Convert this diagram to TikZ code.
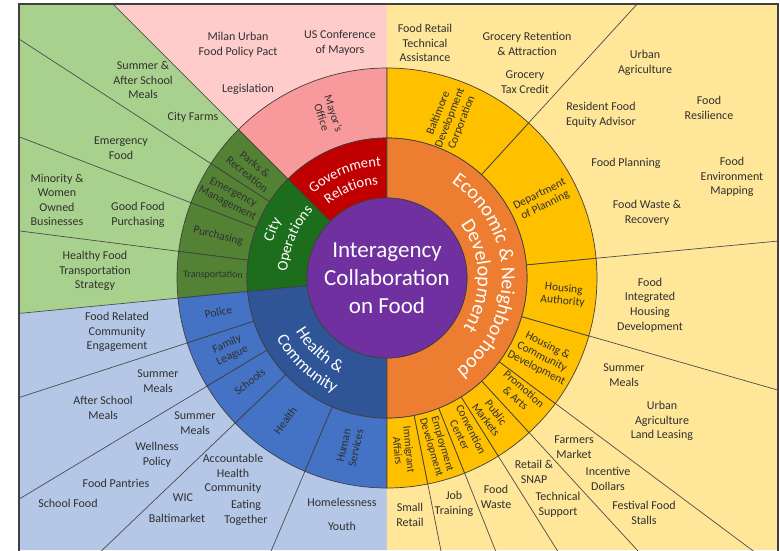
\documentclass[tikz,border=0pt]{standalone}
\usepackage{fontspec}
\setmainfont{Carlito}
\usetikzlibrary{decorations.text}
\definecolor{cpurple}{HTML}{7030A0}
\definecolor{cred}{HTML}{C00000}
\definecolor{cpinkring}{HTML}{F8999B}
\definecolor{cpinkout}{HTML}{FFCCCC}
\definecolor{cgreen}{HTML}{1C6E1C}
\definecolor{cgreenring}{HTML}{548235}
\definecolor{cgreenout}{HTML}{A9D18E}
\definecolor{cblue}{HTML}{2F5597}
\definecolor{cbluering}{HTML}{4472C4}
\definecolor{cblueout}{HTML}{B4C7E7}
\definecolor{corange}{HTML}{ED7D31}
\definecolor{cyellowring}{HTML}{FFC000}
\definecolor{cyellowout}{HTML}{FFE699}
\definecolor{ctext}{HTML}{303030}
\definecolor{cframe}{HTML}{404040}
\newcommand{\ringseg}[5]{\filldraw[fill=#1,segline] (#2:#4) arc[start angle=#2,end angle=#3,radius=#4] -- (#3:#5) arc[start angle=#3,end angle=#2,radius=#5] -- cycle;}
\tikzset{
  segline/.style={draw=black!75, line width=0.7pt},
  outline/.style={draw=black!70, line width=0.7pt},
  olab/.style={align=center, text=ctext, font=\fontsize{12}{14.6}\selectfont, inner sep=1pt},
  rlab/.style={align=center, text=ctext, font=\fontsize{11.5}{12.5}\selectfont, inner sep=0pt},
  curvtext/.style={decorate, decoration={text along path, text align=center, text={#1}}}
}
\begin{document}
\begin{tikzpicture}[x=1pt,y=1pt]
\useasboundingbox (-387,-272) rectangle (393,278);
% outer regions
\fill[cpinkout] (0,0) -- (0,274) -- (-274,274) -- cycle;
\fill[cgreenout] (0,0) -- (-274,274) -- (-368,274) -- (-368,-35.4) -- cycle;
\fill[cblueout] (0,0) -- (-368,-35.4) -- (-368,-272) -- (0,-272) -- cycle;
\fill[cyellowout] (0,0) -- (0,-272) -- (391,-272) -- (391,274) -- (0,274) -- cycle;
\begin{scope}
\clip (-368,-272) rectangle (391,274);
\foreach \a in {135,147,159,172.7,185.5,198,211,223.7,247,-78.8,-68.3,-58,-47.4,-36.7,-16,5.4,47.6}
  \draw[outline] (\a:205) -- (\a:700);
\end{scope}
\draw[cframe, line width=2.2pt] (-368,-274) -- (-368,274) -- (391,274) -- (391,-274);
% ring 3
\ringseg{cpinkring}{90}{135}{140}{210}
\ringseg{cgreenring}{135}{147}{140}{210}
\ringseg{cgreenring}{147}{159}{140}{210}
\ringseg{cgreenring}{159}{172.7}{140}{210}
\ringseg{cgreenring}{172.7}{185.5}{140}{210}
\ringseg{cbluering}{185.5}{198}{140}{210}
\ringseg{cbluering}{198}{211}{140}{210}
\ringseg{cbluering}{211}{223.7}{140}{210}
\ringseg{cbluering}{223.7}{247}{140}{210}
\ringseg{cbluering}{247}{270}{140}{210}
\ringseg{cyellowring}{-90}{-78.8}{140}{210}
\ringseg{cyellowring}{-78.8}{-68.3}{140}{210}
\ringseg{cyellowring}{-68.3}{-58}{140}{210}
\ringseg{cyellowring}{-58}{-47.4}{140}{210}
\ringseg{cyellowring}{-47.4}{-36.7}{140}{210}
\ringseg{cyellowring}{-36.7}{-16}{140}{210}
\ringseg{cyellowring}{-16}{5.4}{140}{210}
\ringseg{cyellowring}{5.4}{47.6}{140}{210}
\ringseg{cyellowring}{47.6}{90}{140}{210}
% ring 2
\ringseg{cred}{90}{135}{80}{140}
\ringseg{cgreen}{135}{185.5}{80}{140}
\ringseg{cblue}{185.5}{270}{80}{140}
\ringseg{corange}{-90}{90}{80}{140}
% core
\node[circle, fill=cpurple, draw=black!75, line width=0.7pt, minimum size=160pt, inner sep=0pt, text=white, align=center, font=\fontsize{23}{28}\selectfont] (core) at (0,0) {Interagency\\Collaboration\\on Food};
% ring 2 curved labels
\path[curvtext={|\fontsize{14.5}{16}\selectfont\color{white}|Government}] (140:112) arc[start angle=140,end angle=84,radius=112];
\path[curvtext={|\fontsize{14.5}{16}\selectfont\color{white}|Relations}] (140:94) arc[start angle=140,end angle=84,radius=94];
\path[curvtext={|\fontsize{15}{17}\selectfont\color{white}|City}] (185:120) arc[start angle=185,end angle=129,radius=120];
\path[curvtext={|\fontsize{15}{17}\selectfont\color{white}|Operations}] (185:100) arc[start angle=185,end angle=129,radius=100];
\path[curvtext={|\fontsize{17}{19}\selectfont\color{white}|Health {\&}}] (195:106) arc[start angle=195,end angle=259,radius=106];
\path[curvtext={|\fontsize{17}{19}\selectfont\color{white}|Community}] (195:126) arc[start angle=195,end angle=259,radius=126];
\path[curvtext={|\fontsize{20}{24}\selectfont\color{white}|Economic {\&} Neighborhood}] (85:115) arc[start angle=85,end angle=-82,radius=115];
\path[curvtext={|\fontsize{20}{24}\selectfont\color{white}|Development}] (85:91) arc[start angle=85,end angle=-82,radius=91];
% ring 3 labels
\node[rlab,rotate=-72] (mo) at (110:173) {Mayor's\\Office};
\node[rlab,rotate=-39] (pr) at (141.3:174) {Parks \&\\Recreation};
\node[rlab,rotate=-27] (em) at (153:176) {Emergency\\Management};
\node[rlab,rotate=-14] (pu) at (166:174) {Purchasing};
\node[rlab,rotate=-1,font=\fontsize{10}{12}\selectfont] (tr) at (179:174) {Transportation};
\node[rlab,rotate=11.4] (po) at (191.4:172) {Police};
\node[rlab,rotate=24.6] (fl) at (204.6:173) {Family\\League};
\node[rlab,rotate=37] (sc) at (217:172) {Schools};
\node[rlab,rotate=54] (he) at (234.5:175) {Health};
\node[rlab,rotate=77.6] (hs) at (257.6:173) {Human\\Services};
\node[rlab,rotate=68.5] (bdc) at (68.5:172) {Baltimore\\Development\\Corporation};
\node[rlab,rotate=26.6] (dp) at (26.6:174) {Department\\of Planning};
\node[rlab,rotate=-5.5] (ha) at (-5.5:177) {Housing\\Authority};
\node[rlab,rotate=-27] (hcd) at (-27:174) {Housing \&\\Community\\Development};
\node[rlab,rotate=-41] (pa) at (-41:176) {Promotion\\\& Arts};
\node[rlab,rotate=-53] (pm) at (-53:173) {Public\\Markets};
\node[rlab,rotate=-63] (cc) at (-63:173) {Convention\\Center};
\node[rlab,rotate=-73.5,font=\fontsize{11}{11.5}\selectfont] (ed) at (-73.5:175) {Employment\\Development};
\node[rlab,rotate=-84.5,font=\fontsize{11}{11.5}\selectfont] (ia) at (-84.5:173) {Immigrant\\Affairs};
% outer labels: pink
\node[olab] (o1) at (-149,233) {Milan Urban\\Food Policy Pact};
\node[olab] (o2) at (-47,235) {US Conference\\of Mayors};
\node[olab] (o3) at (-139,189) {Legislation};
% green
\node[olab] (o4) at (-244,198) {Summer \&\\After School\\Meals};
\node[olab] (o5) at (-194,161) {City Farms};
\node[olab] (o6) at (-266,130) {Emergency\\Food};
\node[olab] (o7) at (-330,78) {Minority \&\\Women\\Owned\\Businesses};
\node[olab] (o8) at (-249,63) {Good Food\\Purchasing};
\node[olab] (o9) at (-292,7) {Healthy Food\\Transportation\\Strategy};
% blue
\node[olab] (o10) at (-270,-54) {Food Related\\Community\\Engagement};
\node[olab] (o11) at (-229,-103) {Summer\\Meals};
\node[olab] (o12) at (-284,-130) {After School\\Meals};
\node[olab] (o13) at (-192,-145) {Summer\\Meals};
\node[olab] (o14) at (-230,-177) {Wellness\\Policy};
\node[olab] (o15) at (-271,-205) {Food Pantries};
\node[olab] (o16) at (-319,-225) {School Food};
\node[olab] (o17) at (-154,-196) {Accountable\\Health\\Community};
\node[olab] (o18) at (-204,-220) {WIC};
\node[olab] (o19) at (-141,-235) {Eating\\Together};
\node[olab] (o20) at (-210,-240) {Baltimarket};
\node[olab] (o21) at (-45,-224) {Homelessness};
\node[olab] (o22) at (-45,-248) {Youth};
% yellow
\node[olab] (o23) at (38,235) {Food Retail\\Technical\\Assistance};
\node[olab] (o24) at (140,234) {Grocery Retention\\\& Attraction};
\node[olab] (o25) at (138,196) {Grocery\\Tax Credit};
\node[olab] (o26) at (258,215) {Urban\\Agriculture};
\node[olab] (o27) at (322,170) {Food\\Resilience};
\node[olab] (o28) at (214,163) {Resident Food\\Equity Advisor};
\node[olab] (o29) at (239,115) {Food Planning};
\node[olab] (o30) at (345,101) {Food\\Environment\\Mapping};
\node[olab] (o31) at (260,65) {Food Waste \&\\Recovery};
\node[olab] (o32) at (263,-27) {Food\\Integrated\\Housing\\Development};
\node[olab] (o33) at (237,-97) {Summer\\Meals};
\node[olab] (o34) at (275,-143) {Urban\\Agriculture\\Land Leasing};
\node[olab] (o35) at (187,-169) {Farmers\\Market};
\node[olab] (o36) at (221,-201) {Incentive\\Dollars};
\node[olab] (o37) at (257,-235) {Festival Food\\Stalls};
\node[olab] (o38) at (147,-194) {Retail \&\\SNAP};
\node[olab] (o39) at (171,-227) {Technical\\Support};
\node[olab] (o40) at (109,-219) {Food\\Waste};
\node[olab] (o41) at (67,-226) {Job\\Training};
\node[olab] (o42) at (23,-237) {Small\\Retail};
\end{tikzpicture}
\end{document}
